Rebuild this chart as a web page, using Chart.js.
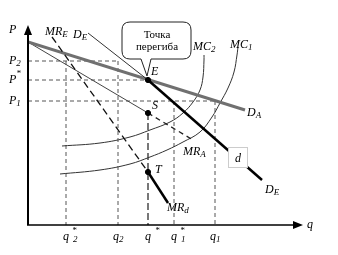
<!DOCTYPE html>
<html><head><meta charset="utf-8">
<script src="https://cdn.jsdelivr.net/npm/chart.js@4/dist/chart.umd.min.js"></script>
<style>html,body{margin:0;padding:0;background:#fff}canvas{display:block}</style>
</head><body>
<canvas id="c" width="338" height="255"></canvas>
<script>
// ---- data (q horizontally, P vertically) ----
const qTickValues = [38, 90, 120, 146, 187];
const qTickLabels = ['q*2', 'q2', 'q*', 'q*1', 'q1'];
const pTickValues = [164, 145, 124];
const pTickLabels = ['P2', 'P*', 'P1'];
const demandA = [[0,183],[217,115]];
const demandEThin = [[60,192],[120,145]];
const demandEKinked = [[120,145],[234,45]];
const mrAThin = [[0,183],[120,112]];
const mrADashed = [[120,112],[165,85]];
const mrE = [[24,188],[120,53]];
const mrD = [[120,53],[140,22]];
const mc1 = [[32,51],[72,55],[102,61],[122,68],[139,75],[155,83],[172,93],[184,108],[192,122],[200,137],[206,153],[209,170],[210,178]];
const mc2 = [[34,79],[72,82],[102,88],[122,95],[142,103],[155,112],[165,123],[172,135],[175,148],[176,165],[176,170]];
const keyPoints = [[120,145],[120,112],[120,53]];
const keyNames = ['E','S','T'];
// guide lines: horizontal P levels reach to these q; vertical q lines start at these P
const pGuideEnds = [90, 120, 187];
const qGuideStarts = [164, 164, 112, 124, 124];

const pts = a => a.map(p => ({x:p[0], y:p[1]}));
const SERIF = '"Liberation Serif","DejaVu Serif",serif';

function line(data, color, width, dash, order, tension) {
  return {data: pts(data), showLine:true, borderColor:color, borderWidth:width,
    borderDash: dash || [], pointRadius:0, fill:false, order: order, tension: tension||0};
}

const datasets = [];
// guides
pTickValues.forEach((p,i)=>datasets.push(line([[0,p],[pGuideEnds[i],p]], '#555', 1, [4,3], 20)));
qTickValues.forEach((q,i)=>{
  const isStar = (qTickLabels[i] === 'q*');
  datasets.push(line([[q,qGuideStarts[i]],[q,0]], isStar ? '#777' : '#555', isStar ? 2 : 1, isStar ? [7,3] : [4,3], 20));
});
datasets.push(line(mc1, '#333', 1, null, 10, 0.4));
datasets.push(line(mc2, '#333', 1, null, 10, 0.4));
datasets.push(line(mrAThin, '#444', 1, null, 9));
datasets.push(line(mrADashed, '#222', 1.3, [5,4], 9));
datasets.push(line(demandA, '#707070', 3, null, 8));
datasets.push(line(demandEThin, '#333', 1, null, 7));
datasets.push(line(mrE, '#111', 1.3, [7,4], 6));
datasets.push(line(demandEKinked, '#000', 2.5, null, 5));
datasets.push(line(mrD, '#000', 2.5, null, 5));
datasets.push({data: pts(keyPoints), showLine:false, pointRadius:2.6, pointBackgroundColor:'#000', pointBorderColor:'#000', order:1});

function lab(ctx, x, y, main, sup, sub, size, gap) {
  size = size || 12; gap = gap || 0;
  ctx.fillStyle = '#000';
  ctx.textBaseline = 'middle'; ctx.textAlign = 'left';
  ctx.font = 'italic ' + size + 'px ' + SERIF;
  ctx.fillText(main, x, y);
  const w = ctx.measureText(main).width;
  ctx.font = 'italic ' + Math.round(size*0.72) + 'px ' + SERIF;
  if (sup) ctx.fillText(sup, x + w + gap - (sub ? 1 : 0), y - 6);
  if (sub) ctx.fillText(sub, x + w + gap, y + 3);
}
function parse(t) {
  const main = t[0]; let sup = '', sub = '';
  for (const ch of t.slice(1)) { if (ch === '*') sup = '*'; else sub += ch; }
  return {main, sup, sub};
}

const decor = {
  id:'decor',
  afterDatasetsDraw(chart) {
    const ctx = chart.ctx, xs = chart.scales.x, ys = chart.scales.y;
    const X = v => xs.getPixelForValue(v), Y = v => ys.getPixelForValue(v);
    const x0 = X(0), y0 = Y(0), xT = chart.chartArea.right, yT = chart.chartArea.top;
    ctx.save();
    // axes
    ctx.strokeStyle = '#000'; ctx.fillStyle = '#000';
    ctx.lineWidth = 2;
    ctx.beginPath(); ctx.moveTo(x0, y0); ctx.lineTo(x0, yT + 6); ctx.stroke();
    ctx.lineWidth = 1.6;
    ctx.beginPath(); ctx.moveTo(x0 - 1, y0); ctx.lineTo(xT - 6, y0); ctx.stroke();
    ctx.beginPath(); ctx.moveTo(x0, yT); ctx.lineTo(x0 - 4, yT + 10); ctx.lineTo(x0 + 4, yT + 10); ctx.closePath(); ctx.fill();
    ctx.beginPath(); ctx.moveTo(xT, y0); ctx.lineTo(xT - 10, y0 - 4); ctx.lineTo(xT - 10, y0 + 4); ctx.closePath(); ctx.fill();

    // d box on kinked demand
    const bx = X(210), by = Y(67.5);
    ctx.fillStyle = '#fff'; ctx.strokeStyle = '#ccc'; ctx.lineWidth = 1;
    ctx.fillRect(bx - 10, by - 10.5, 20, 21); ctx.strokeRect(bx - 9.5, by - 10, 19, 20);
    lab(ctx, bx - 3, by + 1, 'd');

    // callout
    const ex = X(keyPoints[0][0]), ey = Y(keyPoints[0][1]);
    const L = ex - 26, R = ex + 43, T = ey - 58, B = ey - 21, r = 8;
    ctx.beginPath();
    ctx.moveTo(L + r, T); ctx.lineTo(R - r, T); ctx.quadraticCurveTo(R, T, R, T + r);
    ctx.lineTo(R, B - r); ctx.quadraticCurveTo(R, B, R - r, B);
    ctx.lineTo(ex + 3, B); ctx.lineTo(ex - 1, ey - 4); ctx.lineTo(ex - 7, B);
    ctx.lineTo(L + r, B); ctx.quadraticCurveTo(L, B, L, B - r);
    ctx.lineTo(L, T + r); ctx.quadraticCurveTo(L, T, L + r, T); ctx.closePath();
    ctx.fillStyle = '#fff'; ctx.fill(); ctx.strokeStyle = '#222'; ctx.lineWidth = 1; ctx.stroke();
    ctx.fillStyle = '#000'; ctx.font = '11px ' + SERIF; ctx.textAlign = 'center'; ctx.textBaseline = 'middle';
    ctx.fillText('Точка', ex + 9, ey - 45);
    ctx.fillText('перегиба', ex + 9, ey - 33);

    // axis names
    lab(ctx, 9, Y(195), 'P');
    lab(ctx, xT + 4, y0, 'q');
    // P ticks
    pTickValues.forEach((p, i) => { const t = parse(pTickLabels[i]); lab(ctx, 9, Y(p), t.main, t.sup, t.sub); });
    // q ticks
    qTickValues.forEach((q, i) => {
      const t = parse(qTickLabels[i]);
      ctx.font = 'italic 12px ' + SERIF;
      const w = ctx.measureText(t.main).width;
      lab(ctx, X(q) - w / 2 - (t.sub && !t.sup ? 2 : 0), y0 + 12, t.main, t.sup, t.sub, 12, t.sup ? 4 : 0);
    });
    // key point names
    lab(ctx, X(123), Y(153), keyNames[0]);
    lab(ctx, X(124), Y(119), keyNames[1]);
    lab(ctx, X(127), Y(55), keyNames[2]);
    // curve labels
    lab(ctx, X(17), Y(193), 'MR', '', 'E');
    lab(ctx, X(45), Y(190), 'D', '', 'E');
    lab(ctx, X(165), Y(178), 'MC', '', '2');
    lab(ctx, X(202), Y(180), 'MC', '', '1');
    lab(ctx, X(155), Y(73), 'MR', '', 'A');
    lab(ctx, X(139), Y(17), 'MR', '', 'd');
    lab(ctx, X(219), Y(112), 'D', '', 'A');
    lab(ctx, X(237), Y(35), 'D', '', 'E');
    ctx.restore();
  }
};

new Chart(document.getElementById('c'), {
  type: 'scatter',
  data: {datasets},
  options: {
    responsive:false, devicePixelRatio:1, animation:false,
    layout:{padding:{left:28, top:25, right:35, bottom:30}},
    plugins:{legend:{display:false}, tooltip:{enabled:false}},
    scales:{
      x:{type:'linear', min:0, max:275, display:false},
      y:{type:'linear', min:0, max:200, display:false}
    }
  },
  plugins:[decor]
});
</script>
</body></html>
